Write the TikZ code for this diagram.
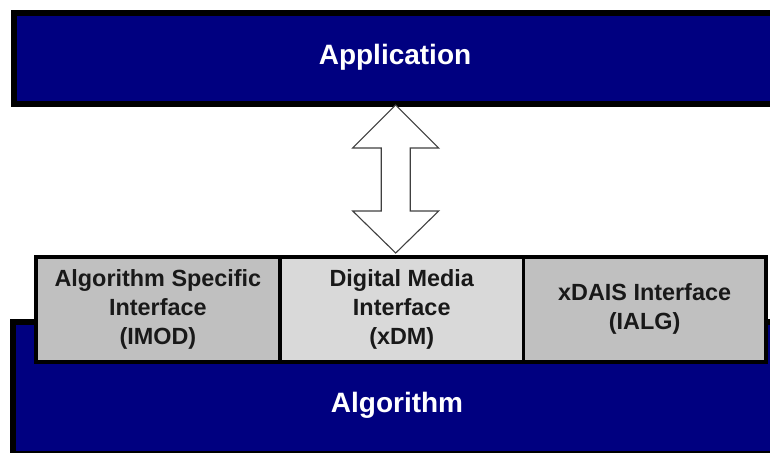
\documentclass[tikz,border=0pt]{standalone}
\usepackage{fontspec}
\setmainfont{Liberation Sans}
\definecolor{navyblue}{HTML}{000080}
\definecolor{ifgray}{HTML}{C0C0C0}
\definecolor{iflight}{HTML}{D9D9D9}
\begin{document}
\begin{tikzpicture}[x=1pt,y=-1pt,
  layer/.style={draw=black,line width=6pt,fill=navyblue},
  layertext/.style={text=white,font=\fontsize{28}{34}\selectfont\bfseries},
  ifbox/.style={draw=black,line width=3.5pt,minimum height=105pt,inner sep=0pt,
    align=center,font=\fontsize{23.4}{29}\selectfont\bfseries,text=black!90},
  bigarrow/.style={draw=black!75,line width=1.1pt,fill=white,line join=miter}]
\useasboundingbox (0,0) rectangle (770,452);
\clip (0,0) rectangle (770,452);
% application layer (runs off the right edge)
\draw[layer] (14,13) rectangle (800,104);
\node[layertext] (app) at (395,57) {Application};
% algorithm layer (runs off the right and bottom edges)
\draw[layer] (13,322) rectangle (800,454);
\node[layertext] (alg) at (397,405) {Algorithm};
% interface row sitting on the algorithm layer
\node[ifbox,fill=ifgray,minimum width=244.3pt,anchor=north west] (imod) at (34,255)
  {Algorithm Specific\\Interface\\(IMOD)};
\node[ifbox,fill=iflight,minimum width=243.4pt,anchor=north west] (xdm) at (278.3,255)
  {Digital Media\\Interface\\(xDM)};
\node[ifbox,fill=ifgray,minimum width=242.3pt,anchor=north west] (ialg) at (521.7,255)
  {xDAIS Interface\\(IALG)};
% double-headed block arrow between application and xDM
\coordinate (top) at (395.7,105);
\coordinate (bot) at (395.7,253);
\draw[bigarrow] (top) -- ++(43,43) -- ++(-28.5,0) -- (410.2,211) -- ++(28.5,0)
  -- (bot) -- ++(-43,-42) -- ++(28.5,0) -- (381.2,148) -- ++(-28.5,0) -- cycle;
\end{tikzpicture}
\end{document}
